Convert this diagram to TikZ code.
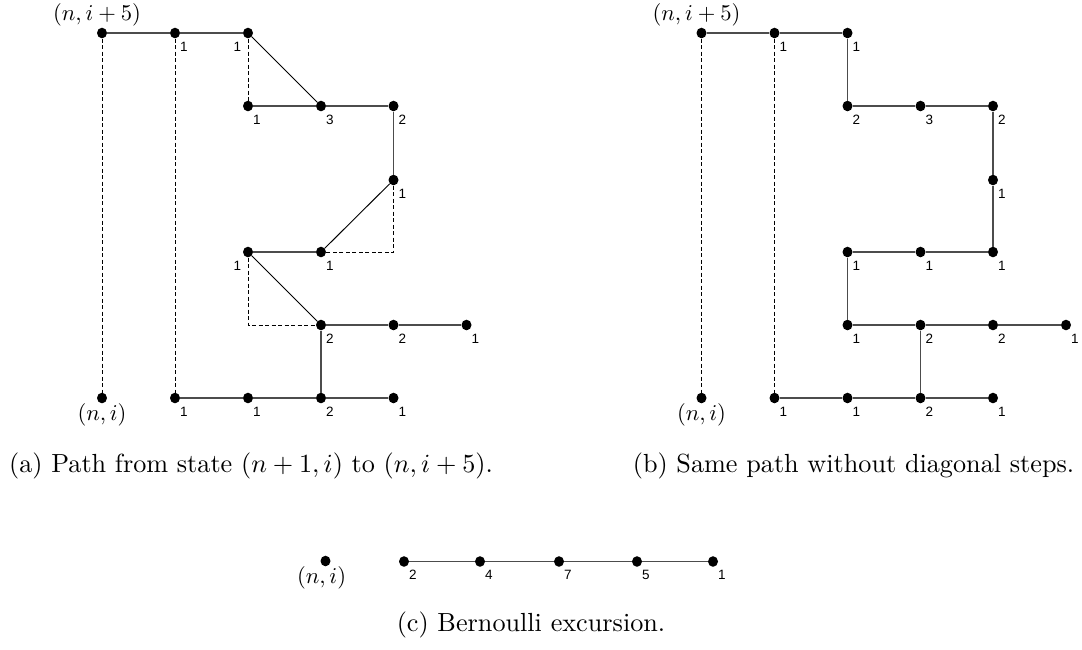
\documentclass[tikz,border=0pt]{standalone}
\usepackage{fontspec}
\usetikzlibrary{shapes.geometric}
\newfontfamily\arialfont{Liberation Sans}
\begin{document}
\begin{tikzpicture}[x=1pt,y=-1pt,
  dot/.style={ellipse,fill=black,draw=none,inner sep=0pt,minimum width=10pt,minimum height=10.6pt},
  num/.style={font=\arialfont\fontsize{13.5}{15}\selectfont,inner sep=0pt,anchor=center},
  br/.style={label={[num,label distance=11pt]-57:#1}},
  bl/.style={label={[num,label distance=12pt]-128:#1}},
  mlab/.style={inner sep=0pt,anchor=center},
  sol/.style={draw=black!70,line width=1.25pt},
  diag/.style={draw=black,line width=0.95pt},
  dsh/.style={draw=black,line width=0.85pt,dash pattern=on 4pt off 2.5pt},
  captext/.style={anchor=base,inner sep=0pt}]
\useasboundingbox (0,0) rectangle (1082,649);

% ---------- (a) ----------
\node[dot,label={[mlab,label distance=13.5pt]105:\scalebox{2.26}{$(n,i+5)$}}] (L00) at (102,33) {};
\node[dot,label={[mlab,label distance=11.5pt]-90:\scalebox{2.26}{$(n,i)$}}] (L05) at (102,398) {};
\node[dot,br=1] (L10) at (175,33) {};
\node[dot,bl=1] (L20) at (248,33) {};
\node[dot,br=1] (L21) at (248,106) {};
\node[dot,br=3] (L31) at (321,106) {};
\node[dot,br=2] (L41) at (393.5,106) {};
\node[dot,br=1] (L42) at (393.5,180) {};
\node[dot,bl=1] (L23) at (248,252) {};
\node[dot,br=1] (L33) at (321,252) {};
\node[dot,br=2] (L34) at (321,325) {};
\node[dot,br=2] (L44) at (393.5,325) {};
\node[dot,br=1] (L54) at (466.5,325) {};
\node[dot,br=1] (L15) at (175,398) {};
\node[dot,br=1] (L25) at (248,398) {};
\node[dot,br=2] (L35) at (321,398) {};
\node[dot,br=1] (L45) at (393.5,398) {};
\coordinate (C43) at (393.5,252);
\coordinate (C24) at (248,325);

\draw[dsh] (L00) -- (L05);
\draw[dsh] (L10) -- (L15);
\draw[dsh] (L20) -- (L21);
\draw[dsh] (L42) -- (C43) -- (L33);
\draw[dsh] (L23) -- (C24) -- (L34);
\draw[sol] (L00) -- (L10) -- (L20);
\draw[diag] (L20) -- (L31);
\draw[sol] (L21) -- (L31) -- (L41) -- (L42);
\draw[diag] (L42) -- (L33);
\draw[sol] (L23) -- (L33);
\draw[diag] (L23) -- (L34);
\draw[sol] (L34) -- (L44) -- (L54);
\draw[sol] (L34) -- (L35);
\draw[sol] (L15) -- (L25) -- (L35) -- (L45);

\node[captext] (capa) at (251,472) {\scalebox{2.62}{(a) Path from state $(n+1,i)$ to $(n,i+5)$.}};

% ---------- (b) ----------
\node[dot,label={[mlab,label distance=13.5pt]105:\scalebox{2.26}{$(n,i+5)$}}] (R00) at (701.5,33) {};
\node[dot,label={[mlab,label distance=11.5pt]-90:\scalebox{2.26}{$(n,i)$}}] (R05) at (701.5,398) {};
\node[dot,br=1] (R10) at (774.5,33) {};
\node[dot,br=1] (R20) at (847.5,33) {};
\node[dot,br=2] (R21) at (847.5,106) {};
\node[dot,br=3] (R31) at (920.5,106) {};
\node[dot,br=2] (R41) at (993,106) {};
\node[dot,br=1] (R42) at (993,180) {};
\node[dot,br=1] (R43) at (993,252) {};
\node[dot,br=1] (R33) at (920.5,252) {};
\node[dot,br=1] (R23) at (847.5,252) {};
\node[dot,br=1] (R24) at (847.5,325) {};
\node[dot,br=2] (R34) at (920.5,325) {};
\node[dot,br=2] (R44) at (993,325) {};
\node[dot,br=1] (R54) at (1066,325) {};
\node[dot,br=1] (R15) at (774.5,398) {};
\node[dot,br=1] (R25) at (847.5,398) {};
\node[dot,br=2] (R35) at (920.5,398) {};
\node[dot,br=1] (R45) at (993,398) {};

\draw[dsh] (R00) -- (R05);
\draw[dsh] (R10) -- (R15);
\draw[sol] (R00) -- (R10) -- (R20) -- (R21) -- (R31) -- (R41) -- (R42) -- (R43) -- (R33) -- (R23) -- (R24) -- (R34) -- (R44) -- (R54);
\draw[sol] (R34) -- (R35);
\draw[sol] (R15) -- (R25) -- (R35) -- (R45);

\node[captext] (capb) at (853.5,472) {\scalebox{2.62}{(b) Same path without diagonal steps.}};

% ---------- (c) ----------
\node[dot,label={[mlab,label distance=12pt]-103:\scalebox{2.26}{$(n,i)$}}] (C0) at (325.5,561) {};
\node[dot,br=2] (B1) at (404,561.5) {};
\node[dot,br=4] (B2) at (480,561.5) {};
\node[dot,br=7] (B3) at (559,561.5) {};
\node[dot,br=5] (B4) at (637,561.5) {};
\node[dot,br=1] (B5) at (713,561.5) {};
\draw[sol] (B1) -- (B2) -- (B3) -- (B4) -- (B5);

\node[captext] (capc) at (531,631) {\scalebox{2.62}{(c) Bernoulli excursion.}};
\end{tikzpicture}
\end{document}
